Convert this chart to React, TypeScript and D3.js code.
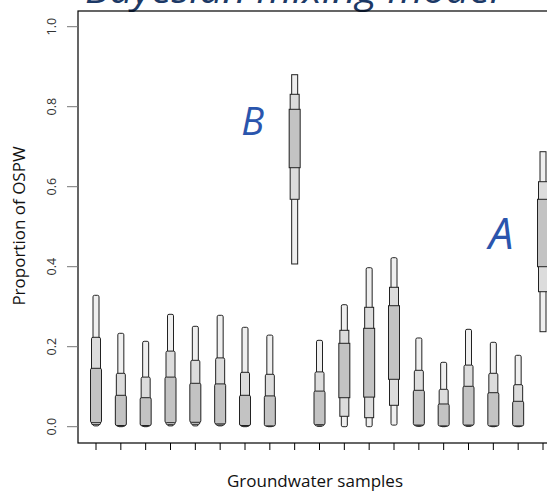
import React from "react";
import * as d3 from "d3";

const samples = d3.range(1, 20).map(String);
const hi95 = [0.3285, 0.2335, 0.2135, 0.281, 0.251, 0.2785, 0.2485, 0.229, 0.88, 0.216, 0.305, 0.3975, 0.4225, 0.2218, 0.161, 0.2435, 0.211, 0.1785, 0.6875];
const hi75 = [0.2235, 0.1335, 0.124, 0.189, 0.166, 0.172, 0.136, 0.131, 0.831, 0.137, 0.241, 0.2985, 0.3485, 0.141, 0.0935, 0.154, 0.1335, 0.105, 0.6125];
const hi50 = [0.146, 0.0785, 0.0725, 0.124, 0.1085, 0.107, 0.0785, 0.077, 0.7935, 0.089, 0.2085, 0.246, 0.3025, 0.091, 0.0568, 0.101, 0.085, 0.0635, 0.5685];
const lo50 = [0.01, 0.003, 0.003, 0.01, 0.011, 0.007, 0.003, 0.002, 0.6475, 0.005, 0.0725, 0.074, 0.1185, 0.004, 0.002, 0.004, 0.002, 0.002, 0.4];
const lo75 = [0.005, 0.001, 0.001, 0.005, 0.006, 0.004, 0.001, 0.001, 0.5685, 0.002, 0.026, 0.0225, 0.0535, 0.002, 0.001, 0.002, 0.001, 0.001, 0.3375];
const lo95 = [0.002, 0.0, 0.0, 0.002, 0.002, 0.002, 0.0, 0.0, 0.4068, 0.001, 0.0, 0.0, 0.004, 0.001, 0.0, 0.001, 0.0, 0.0, 0.2375];
const yTicks = [0, 0.2, 0.4, 0.6, 0.8, 1.0];
const labels = [
  { text: "B", index: 8, value: 0.73, dx: -42, size: 38 },
  { text: "A", index: 18, value: 0.445, dx: -42, size: 44 },
];

const W = 547, H = 491;
const left = 78, top = 11, bottom = 443, right = 562;

export default function App() {
  const y = d3.scaleLinear().domain([0, 1]).range([426.7, 26.7]);
  const x = d3.scalePoint<string>().domain(samples).range([96, 543]);
  const font = "'Open Sans', 'Noto Sans', sans-serif";
  const layers = [
    { lo: lo95, hi: hi95, w: 6, fill: "#efefef" },
    { lo: lo75, hi: hi75, w: 9, fill: "#dcdcdc" },
    { lo: lo50, hi: hi50, w: 11, fill: "#c3c3c3" },
  ];
  return (
    <svg width={W} height={H} style={{ position: "absolute", left: 0, top: 0, background: "#fff" }}>
      <text x={85} y={3} fontFamily={font} fontStyle="italic" fontSize={36} fill="#1c3966" textLength={415} lengthAdjust="spacingAndGlyphs">
        Bayesian mixing model
      </text>
      <rect x={left} y={top} width={right - left} height={bottom - top} fill="none" stroke="#000" strokeWidth={1.2} />
      {yTicks.map((t) => (
        <g key={t}>
          <line x1={67} x2={left} y1={y(t)} y2={y(t)} stroke="#777" strokeWidth={1} />
          <text transform={`translate(56,${y(t)}) rotate(-90)`} textAnchor="middle" fontFamily={font} fontSize={12.5} fill="#333">
            {t.toFixed(1)}
          </text>
        </g>
      ))}
      {samples.map((s) => (
        <line key={s} x1={x(s)} x2={x(s)} y1={bottom} y2={450} stroke="#000" strokeWidth={1} />
      ))}
      {samples.map((s, i) => (
        <g key={"b" + s}>
          {layers.map((L, j) => {
            const yt = y(L.hi[i]);
            const yb = y(L.lo[i]);
            return (
              <rect key={j} x={(x(s) as number) - L.w / 2} y={yt} width={L.w} height={Math.max(1, yb - yt)}
                fill={L.fill} stroke="#222" strokeWidth={1} rx={L.lo[i] < 0.02 ? 1.5 : 0} />
            );
          })}
        </g>
      ))}
      {labels.map((l) => (
        <text key={l.text} x={(x(samples[l.index]) as number) + l.dx} y={y(l.value)} fontFamily={font} fontStyle="italic"
          fontSize={l.size} fill="#2a55ad" textAnchor="middle">
          {l.text}
        </text>
      ))}
      <text transform={`translate(25,226) rotate(-90)`} textAnchor="middle" fontFamily={font} fontSize={17} fill="#111">
        Proportion of OSPW
      </text>
      <text x={315} y={487} textAnchor="middle" fontFamily={font} fontSize={17} fill="#111">
        Groundwater samples
      </text>
    </svg>
  );
}
